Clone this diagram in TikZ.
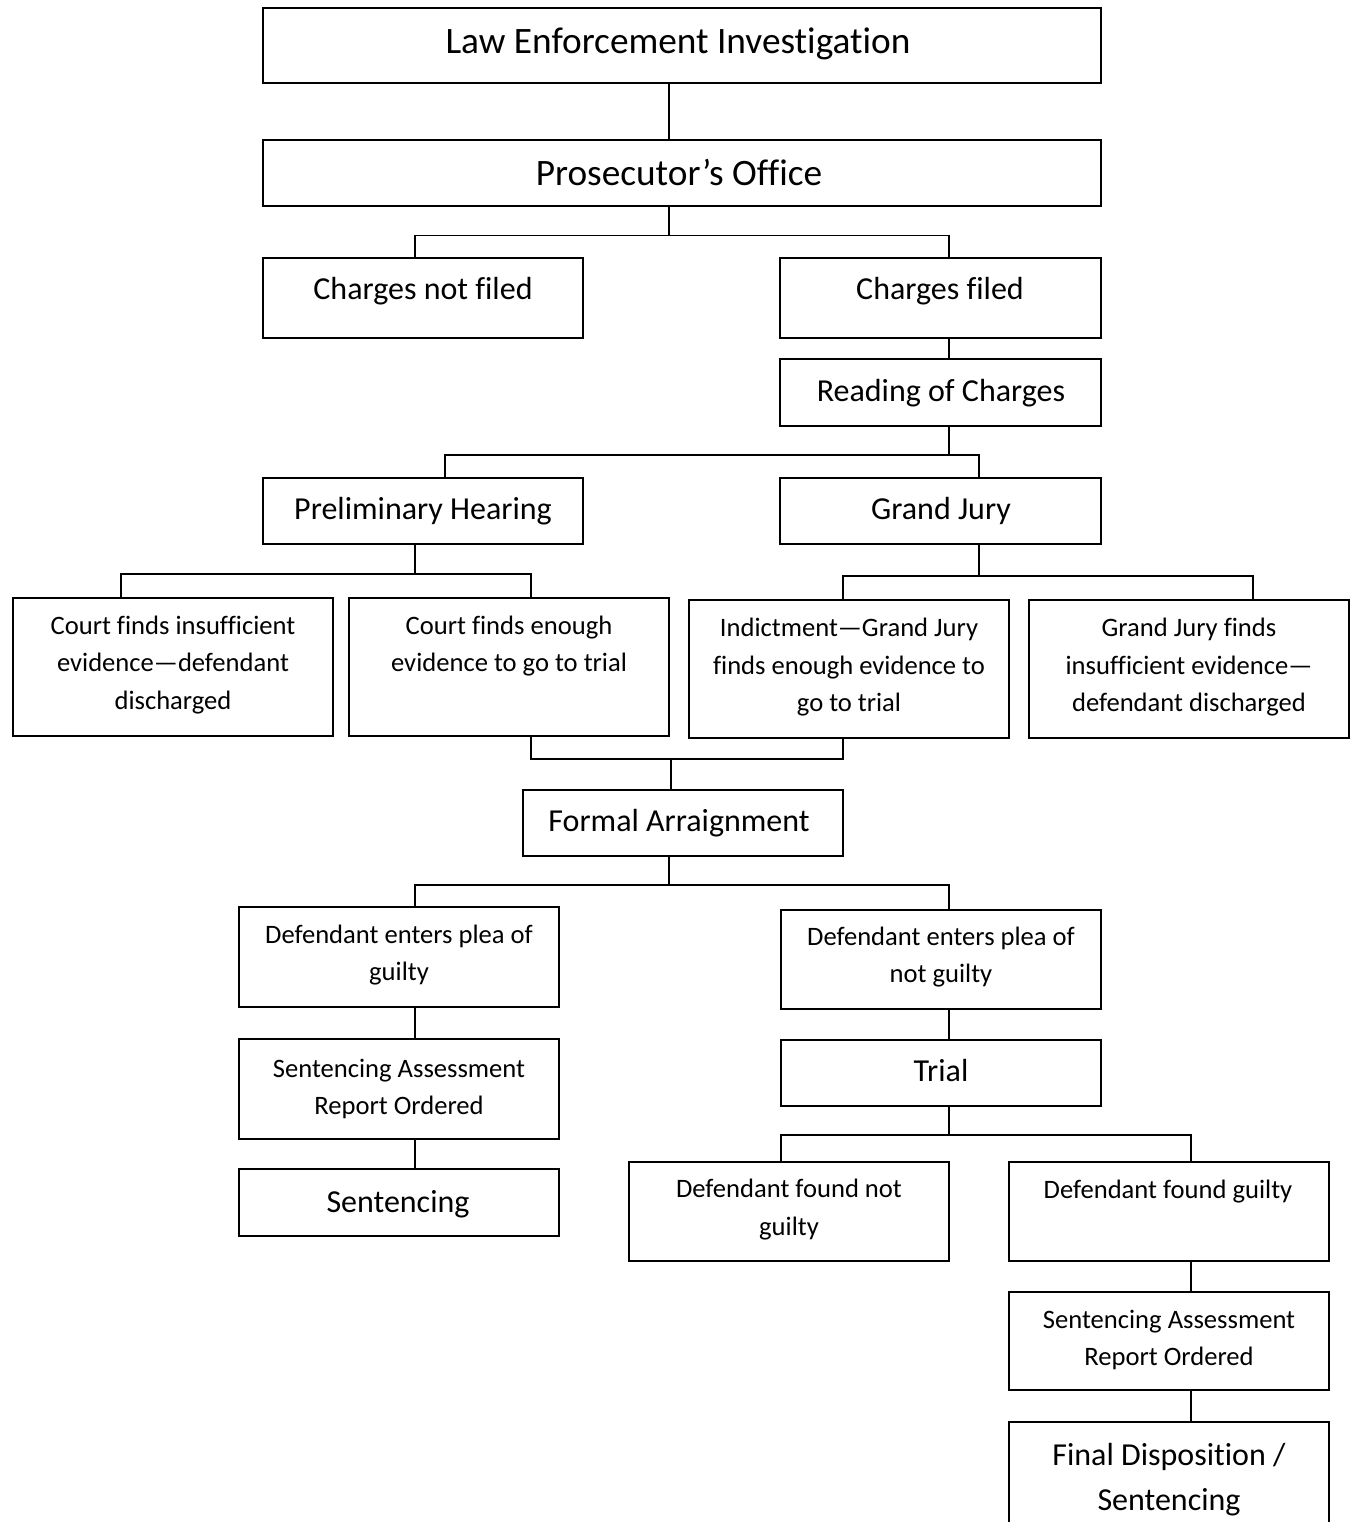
\documentclass[tikz,border=0pt]{standalone}
\usepackage{fontspec}
\setmainfont{Carlito}[Ligatures=NoCommon]
\begin{document}
\begin{tikzpicture}[x=1pt,y=-1pt,
  box/.style={draw=black, line width=1.5pt, inner sep=0pt, minimum width=320pt},
  conn/.style={draw=black, line width=1.5pt},
  lg/.style={font=\fontsize{37.3}{44}\selectfont, anchor=base, inner sep=0pt},
  md/.style={font=\fontsize{32}{45}\selectfont, anchor=base, inner sep=0pt, align=center},
  sm/.style={font=\fontsize{26.6}{37.5}\selectfont, anchor=base, inner sep=0pt, align=center}]
\clip (0,0) rectangle (1353,1522);
\fill[white] (0,0) rectangle (1353,1522);

% boxes
\node[box, minimum width=838pt, minimum height=75pt] (law) at (682,45.5) {};
\node[box, minimum width=838pt, minimum height=66pt] (pros) at (682,173) {};
\node[box, minimum height=80pt] (cnf) at (423,298) {};
\node[box, minimum width=321pt, minimum height=80pt] (cf) at (940.5,298) {};
\node[box, minimum width=321pt, minimum height=67pt] (roc) at (940.5,392.5) {};
\node[box, minimum height=66pt] (ph) at (423,511) {};
\node[box, minimum width=321pt, minimum height=66pt] (gj) at (940.5,511) {};
\node[box, minimum height=138pt] (cfi) at (172.75,667) {};
\node[box, minimum height=138pt] (cfe) at (509,667) {};
\node[box, minimum height=138pt] (ind) at (849,669) {};
\node[box, minimum height=138pt] (gjf) at (1189,669) {};
\node[box, minimum height=66pt] (fa) at (683,823) {};
\node[box, minimum height=100pt] (pg) at (399,957) {};
\node[box, minimum height=99pt] (png) at (941,959.5) {};
\node[box, minimum height=100pt] (sar1) at (399,1089) {};
\node[box, minimum height=67pt] (sen) at (399,1202.5) {};
\node[box, minimum height=66pt] (trial) at (941,1073) {};
\node[box, minimum height=99pt] (fng) at (789,1211.5) {};
\node[box, minimum height=99pt] (fg) at (1169,1211.5) {};
\node[box, minimum height=98pt] (sar2) at (1169,1341) {};
\node[box, minimum height=120pt] (fd) at (1169,1482) {};

% texts (anchor base = baseline of the last line)
\node[lg] (law-t) at (678,54) {Law Enforcement Investigation};
\node[lg] (pros-t) at (679,186) {Prosecutor’s Office};
\node[md] (cnf-t) at (423,299) {Charges not filed};
\node[md] (cf-t) at (940,299) {Charges filed};
\node[md] (roc-t) at (941,401) {Reading of Charges};
\node[md] (ph-t) at (423,519) {Preliminary Hearing};
\node[md] (gj-t) at (941,519) {Grand Jury};
\node[sm] (cfi-t) at (173,709) {Court finds insufficient\\evidence—defendant\\discharged};
\node[sm] (cfe-t) at (509,671.5) {Court finds enough\\evidence to go to trial};
\node[sm] (ind-t) at (849,711.5) {Indictment—Grand Jury\\finds enough evidence to\\go to trial};
\node[sm] (gjf-t) at (1189,711.5) {Grand Jury finds\\insufficient evidence—\\defendant discharged};
\node[md] (fa-t) at (679,831) {Formal Arraignment};
\node[sm] (pg-t) at (399,980.5) {Defendant enters plea of\\guilty};
\node[sm] (png-t) at (941,982.5) {Defendant enters plea of\\not guilty};
\node[sm] (sar1-t) at (399,1114.5) {Sentencing Assessment\\Report Ordered};
\node[md] (sen-t) at (398,1212) {Sentencing};
\node[md] (trial-t) at (941,1081) {Trial};
\node[sm] (fng-t) at (789,1235) {Defendant found not\\guilty};
\node[sm] (fg-t) at (1168,1198) {Defendant found guilty};
\node[sm] (sar2-t) at (1169,1365.5) {Sentencing Assessment\\Report Ordered};
\node[md] (fd-t) at (1169,1510) {Final Disposition /\\Sentencing};

% junction coordinates
\coordinate (b1) at (669,120);
\coordinate (b2m) at (669,235.5);
\coordinate (b2l) at (415,235.5);
\coordinate (b2r) at (949,235.5);
\coordinate (b3m) at (949,455);
\coordinate (b3l) at (445,455);
\coordinate (b3r) at (979,455);
\coordinate (b4m) at (415,574);
\coordinate (b4l) at (121,574);
\coordinate (b4r) at (531,574);
\coordinate (b5m) at (979,576);
\coordinate (b5l) at (843,576);
\coordinate (b5r) at (1253,576);
\coordinate (b6m) at (671,759);
\coordinate (b6l) at (531,759);
\coordinate (b6r) at (843,759);
\coordinate (b7m) at (669,885);
\coordinate (b7l) at (415,885);
\coordinate (b7r) at (949,885);
\coordinate (b8m) at (949,1135);
\coordinate (b8l) at (781,1135);
\coordinate (b8r) at (1191,1135);

% connectors
\draw[conn] (law.south -| b1) -- (pros.north -| b1);
\draw[conn] (pros.south -| b2m) -- (b2m);
\draw[conn] (cnf.north -| b2l) -- (b2l) -- (b2r) -- (cf.north -| b2r);
\draw[conn] (cf.south -| b2r) -- (roc.north -| b2r);
\draw[conn] (roc.south -| b3m) -- (b3m);
\draw[conn] (ph.north -| b3l) -- (b3l) -- (b3r) -- (gj.north -| b3r);
\draw[conn] (ph.south -| b4m) -- (b4m);
\draw[conn] (cfi.north -| b4l) -- (b4l) -- (b4r) -- (cfe.north -| b4r);
\draw[conn] (gj.south -| b5m) -- (b5m);
\draw[conn] (ind.north -| b5l) -- (b5l) -- (b5r) -- (gjf.north -| b5r);
\draw[conn] (cfe.south -| b6l) -- (b6l) -- (b6r) -- (ind.south -| b6r);
\draw[conn] (b6m) -- (fa.north -| b6m);
\draw[conn] (fa.south -| b7m) -- (b7m);
\draw[conn] (pg.north -| b7l) -- (b7l) -- (b7r) -- (png.north -| b7r);
\draw[conn] (pg.south -| b7l) -- (sar1.north -| b7l);
\draw[conn] (sar1.south -| b7l) -- (sen.north -| b7l);
\draw[conn] (png.south -| b7r) -- (trial.north -| b7r);
\draw[conn] (trial.south -| b8m) -- (b8m);
\draw[conn] (fng.north -| b8l) -- (b8l) -- (b8r) -- (fg.north -| b8r);
\draw[conn] (fg.south -| b8r) -- (sar2.north -| b8r);
\draw[conn] (sar2.south -| b8r) -- (fd.north -| b8r);
\end{tikzpicture}
\end{document}
